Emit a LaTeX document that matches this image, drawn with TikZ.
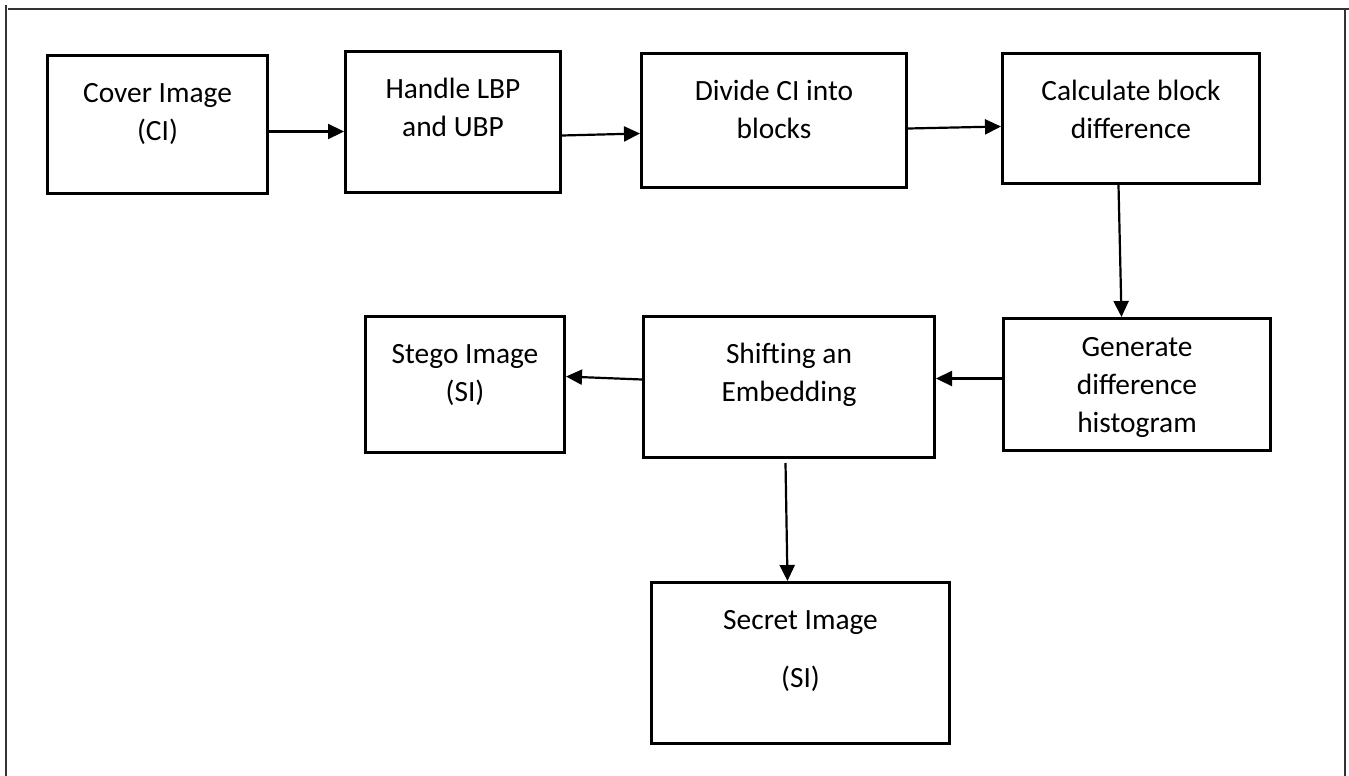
\documentclass[tikz,border=0pt]{standalone}
\usepackage{fontspec}
\setmainfont{Carlito}
\usepackage{tikz}
\usetikzlibrary{arrows.meta}
\tikzset{
  % Box styles
  stepbox/.style={rectangle, draw=black, line width=1.5pt, anchor=north west, inner sep=0pt, align=flush center, text height=23.5pt, font=\fontsize{14.7}{19}\selectfont},
  % Arrow styles
  arrow/.style={-{Triangle[length=8pt, width=7.5pt]}, line width=1.1pt, black},
  % Page frame
  frameline/.style={line width=0.6pt, black!80}
}
\begin{document}
\begin{tikzpicture}[x=0.5pt, y=-0.5pt]
  \useasboundingbox (0,0) rectangle (1349,776);

  % Frame
  \draw[frameline] (8,9) -- (1349,9);
  \draw[frameline] (6,5) -- (6,776);
  \draw[frameline] (1345,9) -- (1345,776);

  % Top row
  \node[stepbox, text width=110pt, text depth=45.5pt] (cover) at (46,54) {Cover Image\\(CI)};
  \node[stepbox, text width=107.5pt, text depth=47pt] (handle) at (344,50) {Handle LBP\\and UBP};
  \node[stepbox, text width=132.5pt, text depth=43.5pt] (divide) at (640,52) {Divide CI into\\blocks};
  \node[stepbox, text width=128.5pt, text depth=41.5pt] (calc) at (1001,52) {Calculate block\\difference};

  % Middle row
  \node[stepbox, text width=133.5pt, text height=19pt, text depth=47pt] (gen) at (1002,317) {Generate\\difference\\histogram};
  \node[stepbox, text width=145.5pt, text depth=47pt] (shift) at (642,315) {Shifting an\\Embedding};
  \node[stepbox, text width=99.5pt, text depth=44.5pt] (stego) at (364,315) {Stego Image\\(SI)};

  % Bottom
  \node[stepbox, text width=149pt, text depth=57pt] (secret) at (650,581) {Secret Image\\[10pt](SI)};

  % Arrows
  \draw[arrow] ([yshift=-3.5pt]cover.east) -- ([yshift=-4.75pt]handle.west);
  \draw[arrow] ([yshift=-6.75pt]handle.east) -- ([yshift=-6.5pt]divide.west);
  \draw[arrow] ([yshift=-4pt]divide.east) -- ([yshift=-4pt]calc.west);
  \draw[arrow] ([xshift=-6.25pt]calc.south) -- ([xshift=-7.75pt]gen.north);
  \draw[arrow] ([yshift=3pt]gen.west) -- ([yshift=4.25pt]shift.east);
  \draw[arrow] ([yshift=3.75pt]shift.west) -- ([yshift=4pt]stego.east);
  \draw[arrow] ([xshift=-1.75pt, yshift=-2pt]shift.south) -- ([xshift=-6.5pt]secret.north);
\end{tikzpicture}
\end{document}
